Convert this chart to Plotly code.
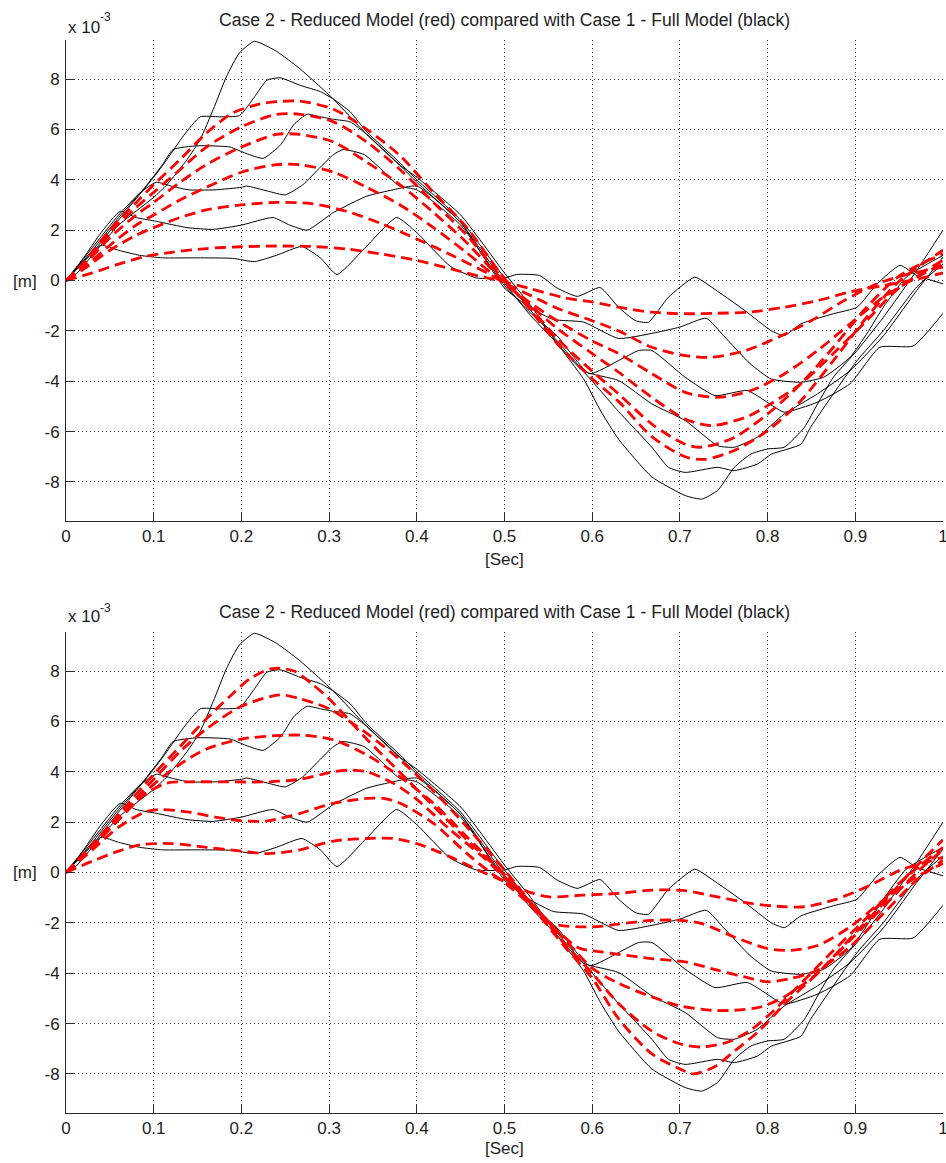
import plotly.graph_objects as go

# ---------------- data (values in units of 1e-3 m) ----------------
x_tick_vals = [0, 0.1, 0.2, 0.3, 0.4, 0.5, 0.6, 0.7, 0.8, 0.9, 1.0]
x_tick_text = ["0", "0.1", "0.2", "0.3", "0.4", "0.5", "0.6", "0.7", "0.8", "0.9", "1"]
y_tick_vals = [-8, -6, -4, -2, 0, 2, 4, 6, 8]
y_tick_text = ["-8", "-6", "-4", "-2", "0", "2", "4", "6", "8"]

title_text = "Case 2 - Reduced Model (red) compared with Case 1 - Full Model (black)"

# Case 1 - Full model (black), same in both panels
k1 = [(0,0),(0.01,0.2),(0.03,1.0),(0.06,2.2),(0.1,3.3),(0.115,3.8),(0.138,4.8),(0.153,5.6),(0.168,6.8),
      (0.183,8.1),(0.198,9.05),(0.215,9.5),(0.24,9.1),(0.267,8.4),(0.305,7.2),(0.343,5.8),(0.38,4.6),
      (0.4,4.1),(0.45,2.6),(0.5,0.3),(0.53,-1.0),(0.56,-2.5),(0.59,-3.9),(0.61,-5.2),(0.63,-6.3),
      (0.668,-7.8),(0.706,-8.54),(0.725,-8.68),(0.743,-8.34),(0.762,-7.42),(0.781,-6.89),(0.8,-6.69),
      (0.819,-6.62),(0.842,-5.83),(0.857,-4.9),(0.875,-3.84),(0.902,-2.78),(0.932,-1.46),(0.97,0.4),(1.0,2.0)]
k2 = [(0,0),(0.03,1.1),(0.06,2.4),(0.1,4.1),(0.115,4.8),(0.134,5.75),(0.153,6.5),(0.175,6.5),(0.198,6.55),
      (0.215,7.3),(0.229,7.95),(0.244,8.05),(0.267,7.75),(0.29,7.5),(0.305,7.2),(0.324,6.7),(0.343,5.9),
      (0.38,4.7),(0.4,4.0),(0.45,2.4),(0.5,0.1),(0.53,-1.2),(0.56,-2.4),(0.59,-3.6),(0.61,-4.4),(0.63,-5.2),
      (0.668,-6.62),(0.687,-7.42),(0.706,-7.62),(0.743,-7.42),(0.762,-7.55),(0.789,-7.28),(0.804,-6.9),
      (0.838,-6.5),(0.849,-5.83),(0.875,-4.5),(0.902,-3.18),(0.932,-1.99),(0.97,-0.26),(1.0,0.66)]
k3 = [(0,0),(0.03,1.2),(0.06,2.5),(0.09,3.7),(0.11,4.6),(0.122,5.2),(0.15,5.35),(0.187,5.3),(0.205,5.05),
      (0.225,4.85),(0.245,5.4),(0.26,6.2),(0.275,6.6),(0.29,6.5),(0.305,6.4),(0.324,6.3),(0.343,5.8),
      (0.38,4.6),(0.4,3.9),(0.45,2.3),(0.5,-0.1),(0.53,-1.4),(0.56,-2.5),(0.59,-3.6),(0.63,-3.97),
      (0.668,-4.9),(0.706,-5.56),(0.743,-6.56),(0.762,-6.62),(0.788,-6.23),(0.819,-5.3),(0.857,-4.5),
      (0.894,-3.58),(0.932,-2.2),(0.97,-0.4),(1.0,0.93)]
k4 = [(0,0),(0.03,1.3),(0.06,2.6),(0.085,3.5),(0.103,3.9),(0.12,3.75),(0.14,3.6),(0.17,3.6),(0.2,3.7),
      (0.206,3.75),(0.23,3.55),(0.25,3.4),(0.27,3.8),(0.29,4.5),(0.305,5.0),(0.316,5.2),(0.34,5.0),
      (0.36,4.4),(0.38,3.75),(0.4,3.6),(0.45,2.2),(0.5,-0.2),(0.53,-1.3),(0.56,-2.2),(0.597,-3.7),
      (0.63,-3.18),(0.653,-2.78),(0.668,-2.78),(0.706,-3.84),(0.74,-4.57),(0.777,-4.37),(0.808,-5.03),
      (0.819,-5.23),(0.857,-4.83),(0.894,-4.1),(0.928,-2.65),(0.966,-2.6),(1.0,-1.3)]
k5 = [(0,0),(0.02,0.9),(0.04,1.9),(0.062,2.75),(0.08,2.5),(0.103,2.35),(0.138,2.1),(0.168,2.03),(0.2,2.2),
      (0.236,2.5),(0.255,2.2),(0.275,2.0),(0.305,2.7),(0.343,3.35),(0.373,3.6),(0.4,3.75),(0.45,2.3),
      (0.5,-0.3),(0.53,-1.1),(0.556,-1.55),(0.59,-1.65),(0.63,-2.3),(0.668,-2.1),(0.7,-1.85),(0.73,-1.5),
      (0.75,-2.2),(0.78,-3.3),(0.804,-3.91),(0.838,-4.04),(0.864,-3.84),(0.894,-3.05),(0.913,-2.12),
      (0.932,-1.06),(0.958,0.13),(1.0,1.0)]
k6 = [(0,0),(0.015,0.6),(0.03,1.1),(0.04,1.4),(0.06,1.2),(0.084,1.0),(0.11,0.9),(0.15,0.9),(0.19,0.88),
      (0.215,0.75),(0.24,1.0),(0.269,1.35),(0.29,0.9),(0.309,0.24),(0.343,1.37),(0.377,2.5),(0.4,1.9),
      (0.438,0.57),(0.468,0.1),(0.5,0.1),(0.514,0.24),(0.54,0.2),(0.56,-0.3),(0.583,-0.63),(0.609,-0.28),
      (0.63,-1.06),(0.649,-1.59),(0.664,-1.66),(0.687,-0.66),(0.717,0.13),(0.736,-0.26),(0.774,-1.19),
      (0.804,-1.99),(0.819,-2.19),(0.838,-1.72),(0.875,-1.32),(0.902,-1.06),(0.925,-0.13),(0.951,0.6),
      (0.97,0.2),(1.0,-0.13)]

# Case 2 - Reduced model (red), top panel
r1 = [(0,0),(0.02,0.7),(0.05,2.0),(0.08,3.1),(0.1,3.8),(0.13,4.8),(0.16,5.85),(0.19,6.65),(0.22,7.0),
      (0.24,7.1),(0.267,7.12),(0.305,6.8),(0.343,6.0),(0.381,4.95),(0.419,3.5),(0.457,2.1),(0.495,0.3),
      (0.53,-1.2),(0.56,-2.5),(0.6,-3.9),(0.63,-4.8),(0.668,-6.2),(0.706,-7.0),(0.728,-7.1),(0.762,-6.75),
      (0.8,-5.96),(0.838,-4.77),(0.875,-3.18),(0.913,-1.46),(0.951,0.0),(1.0,1.2)]
r2 = [(0,0),(0.02,0.65),(0.05,1.9),(0.08,2.9),(0.1,3.5),(0.13,4.4),(0.16,5.3),(0.2,6.1),(0.24,6.6),
      (0.267,6.6),(0.305,6.3),(0.343,5.5),(0.381,4.4),(0.419,3.1),(0.457,1.8),(0.495,0.2),(0.53,-1.1),
      (0.56,-2.3),(0.6,-3.6),(0.63,-4.5),(0.668,-5.7),(0.706,-6.5),(0.725,-6.62),(0.762,-6.23),(0.8,-5.3),
      (0.838,-4.1),(0.875,-2.65),(0.913,-1.06),(0.951,0.2),(1.0,1.06)]
r3 = [(0,0),(0.02,0.6),(0.05,1.7),(0.08,2.6),(0.1,3.1),(0.13,3.9),(0.16,4.6),(0.2,5.3),(0.24,5.8),
      (0.267,5.8),(0.305,5.5),(0.343,4.7),(0.381,3.8),(0.419,2.7),(0.457,1.5),(0.495,0.1),(0.53,-1.0),
      (0.56,-1.9),(0.6,-2.9),(0.63,-3.64),(0.668,-4.64),(0.706,-5.5),(0.736,-5.76),(0.775,-5.43),
      (0.8,-4.97),(0.838,-4.1),(0.875,-2.9),(0.913,-1.59),(0.951,-0.26),(1.0,0.8)]
r4 = [(0,0),(0.02,0.5),(0.05,1.4),(0.08,2.2),(0.1,2.6),(0.13,3.2),(0.16,3.7),(0.2,4.3),(0.24,4.6),
      (0.267,4.6),(0.305,4.3),(0.343,3.7),(0.381,3.0),(0.419,2.1),(0.457,1.1),(0.495,0.0),(0.53,-0.9),
      (0.56,-1.6),(0.6,-2.4),(0.63,-2.9),(0.668,-3.7),(0.706,-4.44),(0.743,-4.64),(0.781,-4.37),
      (0.819,-3.71),(0.857,-2.78),(0.894,-1.72),(0.932,-0.66),(0.97,0.13),(1.0,0.66)]
r5 = [(0,0),(0.02,0.45),(0.05,1.2),(0.08,1.8),(0.1,2.1),(0.13,2.5),(0.16,2.8),(0.2,3.0),(0.24,3.1),
      (0.28,3.05),(0.32,2.75),(0.36,2.25),(0.4,1.65),(0.44,1.0),(0.48,0.3),(0.5,-0.1),(0.53,-0.6),
      (0.56,-1.1),(0.6,-1.6),(0.63,-2.0),(0.668,-2.65),(0.706,-2.98),(0.736,-3.05),(0.775,-2.78),
      (0.812,-2.25),(0.85,-1.59),(0.887,-0.8),(0.925,-0.13),(0.962,0.26),(1.0,0.53)]
r6 = [(0,0),(0.03,0.3),(0.06,0.65),(0.09,0.95),(0.12,1.12),(0.16,1.27),(0.2,1.34),(0.24,1.37),(0.28,1.35),
      (0.32,1.25),(0.36,1.05),(0.4,0.8),(0.44,0.45),(0.48,0.1),(0.5,-0.05),(0.53,-0.33),(0.57,-0.7),
      (0.6,-0.85),(0.63,-1.06),(0.668,-1.26),(0.706,-1.32),(0.743,-1.3),(0.781,-1.25),(0.819,-1.06),
      (0.857,-0.8),(0.894,-0.45),(0.932,-0.2),(0.97,0.05),(1.0,0.3)]

# Case 2 - Reduced model (red), bottom panel
s1 = [(0,0),(0.03,1.1),(0.06,2.3),(0.1,3.9),(0.13,5.0),(0.16,6.1),(0.19,7.1),(0.21,7.7),(0.235,8.1),
      (0.26,8.0),(0.28,7.5),(0.3,6.9),(0.34,5.4),(0.38,4.0),(0.42,2.6),(0.46,1.2),(0.5,-0.1),(0.53,-1.3),
      (0.57,-3.0),(0.6,-4.2),(0.63,-5.8),(0.668,-7.2),(0.7,-7.8),(0.715,-8.0),(0.74,-7.7),(0.762,-7.1),
      (0.79,-6.3),(0.82,-5.2),(0.86,-3.9),(0.9,-2.4),(0.93,-1.3),(0.96,-0.1),(1.0,1.3)]
s2 = [(0,0),(0.03,1.1),(0.06,2.2),(0.1,3.7),(0.13,4.8),(0.16,5.7),(0.2,6.6),(0.244,7.05),(0.267,6.9),
      (0.3,6.5),(0.34,5.6),(0.38,4.5),(0.42,3.2),(0.46,1.7),(0.5,0.1),(0.53,-1.2),(0.57,-2.9),(0.6,-4.0),
      (0.63,-5.2),(0.668,-6.3),(0.7,-6.8),(0.725,-6.93),(0.755,-6.73),(0.781,-6.25),(0.808,-5.45),
      (0.838,-4.4),(0.875,-3.1),(0.913,-1.8),(0.951,-0.4),(1.0,1.0)]
s3 = [(0,0),(0.03,1.0),(0.06,2.1),(0.1,3.5),(0.13,4.3),(0.16,4.9),(0.2,5.3),(0.25,5.45),(0.27,5.45),
      (0.305,5.27),(0.343,4.67),(0.381,3.8),(0.419,2.75),(0.457,1.42),(0.495,0.1),(0.53,-1.2),(0.57,-2.7),
      (0.6,-3.8),(0.63,-4.4),(0.668,-4.94),(0.7,-5.3),(0.736,-5.47),(0.762,-5.47),(0.792,-5.34),
      (0.819,-4.94),(0.857,-4.0),(0.894,-2.69),(0.932,-1.36),(0.97,0.0),(1.0,0.9)]
s4 = [(0,0),(0.03,1.0),(0.06,2.1),(0.09,3.1),(0.115,3.55),(0.14,3.6),(0.18,3.6),(0.23,3.6),(0.267,3.7),
      (0.305,4.0),(0.324,4.07),(0.343,4.0),(0.373,3.55),(0.4,2.9),(0.438,1.7),(0.476,0.6),(0.5,-0.2),
      (0.53,-1.2),(0.56,-2.3),(0.585,-3.0),(0.61,-3.15),(0.63,-3.25),(0.668,-3.42),(0.706,-3.55),
      (0.743,-3.88),(0.781,-4.21),(0.8,-4.34),(0.826,-4.21),(0.857,-3.88),(0.894,-2.95),(0.932,-1.63),
      (0.97,-0.3),(1.0,0.5)]
s5 = [(0,0),(0.03,0.9),(0.06,1.8),(0.09,2.4),(0.107,2.5),(0.14,2.4),(0.17,2.2),(0.2,2.05),(0.23,2.05),
      (0.267,2.35),(0.305,2.75),(0.343,2.94),(0.362,2.94),(0.381,2.75),(0.419,1.95),(0.457,0.76),
      (0.48,0.1),(0.5,-0.4),(0.53,-1.3),(0.551,-2.0),(0.6,-2.16),(0.63,-2.05),(0.668,-1.9),(0.7,-1.9),
      (0.725,-2.03),(0.762,-2.56),(0.8,-3.02),(0.826,-3.09),(0.857,-2.9),(0.894,-2.16),(0.932,-1.1),
      (0.97,-0.17),(1.0,0.36)]
s6 = [(0,0),(0.03,0.45),(0.06,0.85),(0.085,1.1),(0.12,1.15),(0.16,1.0),(0.2,0.85),(0.23,0.75),(0.267,0.9),
      (0.305,1.25),(0.343,1.35),(0.373,1.35),(0.4,1.15),(0.438,0.62),(0.476,0.0),(0.5,-0.35),(0.53,-0.8),
      (0.551,-0.97),(0.589,-0.9),(0.63,-0.83),(0.668,-0.7),(0.706,-0.72),(0.743,-0.97),(0.781,-1.23),
      (0.819,-1.36),(0.842,-1.36),(0.875,-1.1),(0.913,-0.57),(0.951,0.09),(0.97,0.3),(1.0,0.6)]

black_curves = [k1, k2, k3, k4, k5, k6]
red_top = [r1, r2, r3, r4, r5, r6]
red_bottom = [s1, s2, s3, s4, s5, s6]

# ---------------- layout geometry ----------------
W, H = 946, 1163
ML, MR, MT, MB = 66, 3, 40, 50
PLOT_W = W - ML - MR
PLOT_H = H - MT - MB
TOP_PX = (40, 521)      # top panel plot area (y pixels)
BOT_PX = (632, 1113)    # bottom panel plot area


def py(px):
    """pixel row -> paper y"""
    return (H - MB - px) / PLOT_H


def pxx(px):
    """pixel column -> paper x"""
    return (px - ML) / PLOT_W


FONT = "Liberation Sans, Arial, sans-serif"
TXT = "#1e1e1e"

fig = go.Figure()

for (panel, reds) in (("", red_top), ("2", red_bottom)):
    for c in black_curves:
        fig.add_trace(go.Scatter(x=[p[0] for p in c], y=[p[1] for p in c], mode="lines",
                                 line=dict(color="black", width=1, shape="spline", smoothing=0.5),
                                 xaxis="x" + panel, yaxis="y" + panel, hoverinfo="skip"))
    for c in reds:
        fig.add_trace(go.Scatter(x=[p[0] for p in c], y=[p[1] for p in c], mode="lines",
                                 line=dict(color="#ff0000", width=2.8, dash="11px,6px", shape="spline",
                                           smoothing=0.8),
                                 xaxis="x" + panel, yaxis="y" + panel, hoverinfo="skip"))

ax_common = dict(showline=True, linecolor="#2a2a2a", linewidth=1, mirror=False, ticks="inside",
                 ticklen=9, tickcolor="#2a2a2a", tickwidth=1, showgrid=True, gridcolor="#3a3a3a",
                 gridwidth=1, griddash="1px,3px", zeroline=False, automargin=False,
                 ticklabeloverflow="allow",
                 tickfont=dict(family=FONT, size=17, color=TXT))

xa = dict(ax_common, range=[0, 1], tickvals=x_tick_vals, ticktext=x_tick_text, domain=[0, 1])
ya = dict(ax_common, range=[-9.55, 9.55], tickvals=y_tick_vals, ticktext=y_tick_text, ticklabelstandoff=2)

fig.update_layout(
    width=W, height=H, margin=dict(l=ML, r=MR, t=MT, b=MB, autoexpand=False),
    paper_bgcolor="white", plot_bgcolor="white", showlegend=False, template="none",
    xaxis=dict(xa, anchor="y"),
    yaxis=dict(ya, anchor="x", domain=[py(TOP_PX[1]), py(TOP_PX[0])]),
    xaxis2=dict(xa, anchor="y2"),
    yaxis2=dict(ya, anchor="x2", domain=[py(BOT_PX[1]), py(BOT_PX[0])]),
)

ann = []
for (t_y, exp_y, sup_y, m_y, sec_y) in ((20, 27, 17, 281, 559), (612, 617, 608, 872, 1149)):
    ann.append(dict(text=title_text, x=0.5, y=py(t_y), xref="paper", yref="paper",
                    xanchor="center", yanchor="middle", showarrow=False,
                    font=dict(family=FONT, size=17.6, color=TXT)))
    ann.append(dict(text="x 10", x=pxx(66), y=py(exp_y), xref="paper", yref="paper",
                    xanchor="left", yanchor="middle", showarrow=False,
                    font=dict(family=FONT, size=17, color=TXT)))
    ann.append(dict(text="-3", x=pxx(98), y=py(sup_y), xref="paper", yref="paper",
                    xanchor="left", yanchor="middle", showarrow=False,
                    font=dict(family=FONT, size=12, color=TXT)))
    ann.append(dict(text="[m]", x=pxx(25), y=py(m_y), xref="paper", yref="paper",
                    xanchor="center", yanchor="middle", showarrow=False,
                    font=dict(family=FONT, size=17, color=TXT)))
    ann.append(dict(text="[Sec]", x=pxx(504), y=py(sec_y), xref="paper", yref="paper",
                    xanchor="center", yanchor="middle", showarrow=False,
                    font=dict(family=FONT, size=17, color=TXT)))
fig.update_layout(annotations=ann)

fig.write_html("out.html")
